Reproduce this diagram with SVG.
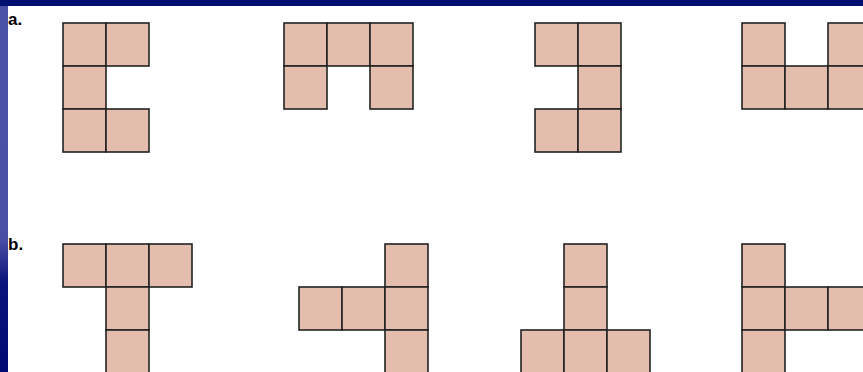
<svg xmlns="http://www.w3.org/2000/svg" width="863" height="372" viewBox="0 0 863 372">
<defs>
<linearGradient id="lg" x1="0" y1="0" x2="0" y2="1">
<stop offset="0" stop-color="#4a52a8"/>
<stop offset="0.64" stop-color="#4a4fa5"/>
<stop offset="0.76" stop-color="#0a137a"/>
<stop offset="1" stop-color="#000a72"/>
</linearGradient>
<style>
.c{fill:#e3bdae;stroke:#222;stroke-width:1.6}
.t{font-family:"Liberation Sans",Arial,sans-serif;font-weight:bold;font-size:17px;fill:#000}
</style>
<rect id="sq" class="c" width="43" height="43"/>
</defs>
<rect width="863" height="372" fill="#fff"/>
<rect x="0" y="0" width="8" height="372" fill="url(#lg)"/>
<rect x="0" y="0" width="863" height="6" fill="#001070"/>
<text class="t" x="8" y="25">a.</text>
<text class="t" x="8" y="250">b.</text>
<g id="a1">
<use href="#sq" x="63" y="23"/><use href="#sq" x="106" y="23"/>
<use href="#sq" x="63" y="66"/>
<use href="#sq" x="63" y="109"/><use href="#sq" x="106" y="109"/>
</g>
<g id="a2">
<use href="#sq" x="284" y="23"/><use href="#sq" x="327" y="23"/><use href="#sq" x="370" y="23"/>
<use href="#sq" x="284" y="66"/><use href="#sq" x="370" y="66"/>
</g>
<g id="a3">
<use href="#sq" x="535" y="23"/><use href="#sq" x="578" y="23"/>
<use href="#sq" x="578" y="66"/>
<use href="#sq" x="535" y="109"/><use href="#sq" x="578" y="109"/>
</g>
<g id="a4">
<use href="#sq" x="742" y="23"/><use href="#sq" x="828" y="23"/>
<use href="#sq" x="742" y="66"/><use href="#sq" x="785" y="66"/><use href="#sq" x="828" y="66"/>
</g>
<g id="b1">
<use href="#sq" x="63" y="244"/><use href="#sq" x="106" y="244"/><use href="#sq" x="149" y="244"/>
<use href="#sq" x="106" y="287"/><use href="#sq" x="106" y="330"/>
</g>
<g id="b2">
<use href="#sq" x="385" y="244"/>
<use href="#sq" x="299" y="287"/><use href="#sq" x="342" y="287"/><use href="#sq" x="385" y="287"/>
<use href="#sq" x="385" y="330"/>
</g>
<g id="b3">
<use href="#sq" x="564" y="244"/><use href="#sq" x="564" y="287"/>
<use href="#sq" x="521" y="330"/><use href="#sq" x="564" y="330"/><use href="#sq" x="607" y="330"/>
</g>
<g id="b4">
<use href="#sq" x="742" y="244"/>
<use href="#sq" x="742" y="287"/><use href="#sq" x="785" y="287"/><use href="#sq" x="828" y="287"/>
<use href="#sq" x="742" y="330"/>
</g>
<g id="connectors"/>
</svg>
